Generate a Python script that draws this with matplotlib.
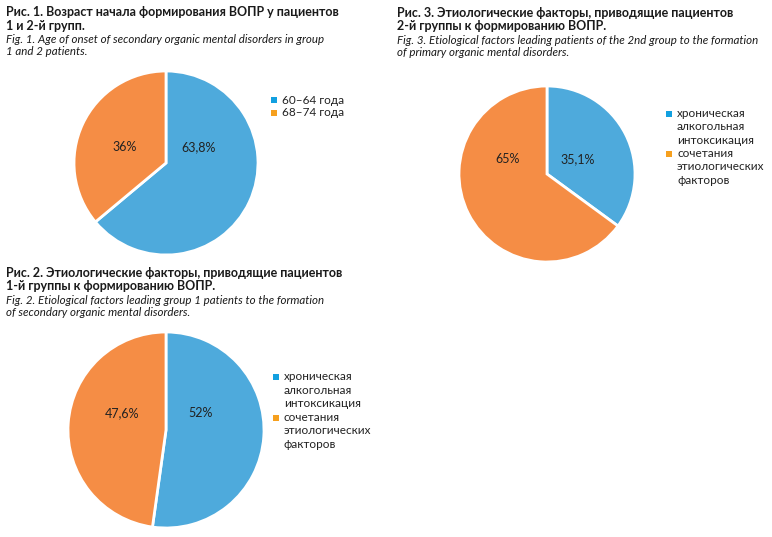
import matplotlib.pyplot as plt
from matplotlib.patches import Rectangle

W, H = 772, 537

# data
fig1_labels = ['60–64 года', '68–74 года']
fig1_values = [63.8, 36]
fig1_pct = ['63,8%', '36%']

fig2_labels = ['хроническая\nалкогольная\nинтоксикация', 'сочетания\nэтиологических\nфакторов']
fig2_values = [52, 47.6]
fig2_pct = ['52%', '47,6%']

fig3_labels = ['хроническая\nалкогольная\nинтоксикация', 'сочетания\nэтиологических\nфакторов']
fig3_values = [35.1, 65]
fig3_pct = ['35,1%', '65%']

fig1_title = ['Рис. 1. Возраст начала формирования ВОПР у пациентов', '1 и 2-й групп.']
fig1_sub = ['Fig. 1. Age of onset of secondary organic mental disorders in group', '1 and 2 patients.']
fig2_title = ['Рис. 2. Этиологические факторы, приводящие пациентов', '1-й группы к формированию ВОПР.']
fig2_sub = ['Fig. 2. Etiological factors leading group 1 patients to the formation',
            'of secondary organic mental disorders.']
fig3_title = ['Рис. 3. Этиологические факторы, приводящие пациентов', '2-й группы к формированию ВОПР.']
fig3_sub = ['Fig. 3. Etiological factors leading patients of the 2nd group to the formation',
            'of primary organic mental disorders.']

pie_colors = ['#4eaadc', '#f58d45']
legend_colors = ['#12a0e0', '#f6a01e']
FONT = 'Lato'

fig = plt.figure(figsize=(W / 100, H / 100), dpi=100)


def fx(x):
    return x / W


def fy(y):
    return 1 - y / H


def draw_pie(cx, cy, r, values, pct):
    ax = fig.add_axes([fx(cx - r), fy(cy + r), 2 * r / W, 2 * r / H])
    ax.pie(values, colors=pie_colors, startangle=90, counterclock=False,
           wedgeprops=dict(edgecolor='white', linewidth=2))
    ax.set_xlim(-1, 1)
    ax.set_ylim(-1, 1)
    ax.axis('off')
    # blue label on the right, orange on the left
    ax.text(0.35, 0.17, pct[0], ha='center', va='center', fontsize=9, family=FONT, color='#222222')
    ax.text(-0.45, 0.17, pct[1], ha='center', va='center', fontsize=9, family=FONT, color='#222222')
    return ax


def title_block(x, y, bold_lines, italic_lines):
    for i, line in enumerate(bold_lines):
        fig.text(fx(x), fy(y + i * 13), line, fontsize=9, fontweight='bold',
                 family=FONT, va='center', ha='left', color='#1a1a1a')
    y2 = y + 27
    for i, line in enumerate(italic_lines):
        fig.text(fx(x), fy(y2 + i * 12.3), line, fontsize=8.3, style='italic',
                 family=FONT, va='center', ha='left', color='#1a1a1a')


def legend_block(x, ys, labels, step=13.4):
    for y, lab, col in zip(ys, labels, legend_colors):
        fig.patches.append(Rectangle((fx(x), fy(y + 3)), 6 / W, 6 / H,
                                     transform=fig.transFigure, facecolor=col, edgecolor='none'))
        for j, line in enumerate(lab.split('\n')):
            fig.text(fx(x + 11), fy(y + j * step), line, fontsize=8.5, family=FONT,
                     va='center', ha='left', color='#222222')


title_block(6, 12.5, fig1_title, fig1_sub)
title_block(397, 13, fig3_title, fig3_sub)
title_block(6, 273, fig2_title, fig2_sub)

draw_pie(166, 163, 92, fig1_values, fig1_pct)
draw_pie(547, 174, 88, fig3_values, fig3_pct)
draw_pie(166, 430, 98, fig2_values, fig2_pct)

legend_block(271, [100, 113], fig1_labels)
legend_block(666, [113.5, 153.5], fig3_labels)
legend_block(273, [377, 417.5], fig2_labels)

fig.savefig('out.png', dpi=100)
